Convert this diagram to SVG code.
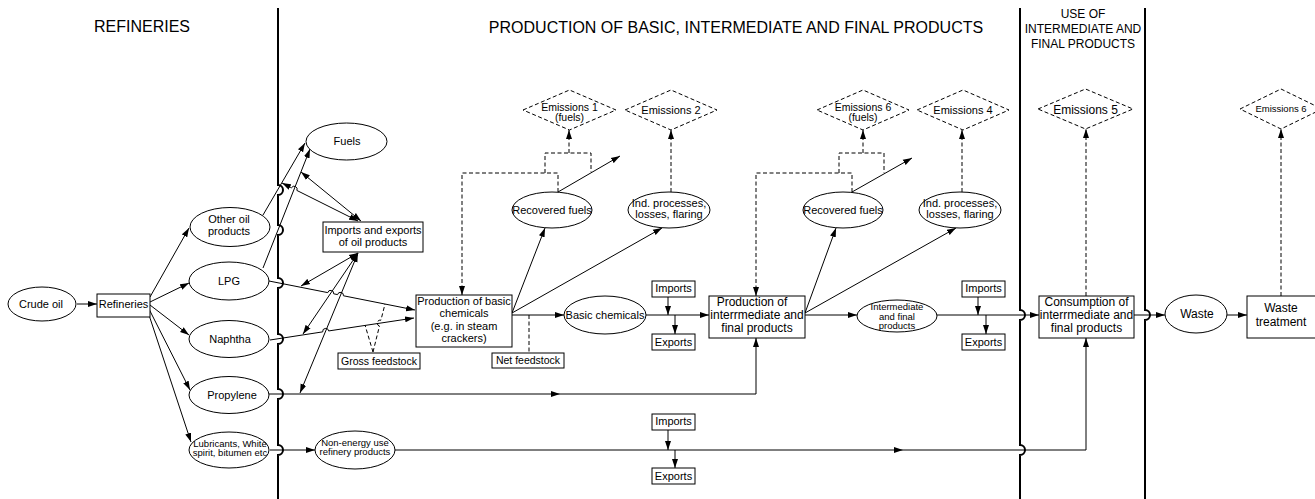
<svg xmlns="http://www.w3.org/2000/svg" width="1315" height="499" viewBox="0 0 1315 499">
<style>
.n{fill:#fff;stroke:#000;stroke-width:1}
.c{fill:none;stroke:#000;stroke-width:1}
.d{fill:none;stroke:#000;stroke-width:1;stroke-dasharray:4 2.5}
.dv{fill:none;stroke:#000;stroke-width:2}
text{font-family:"Liberation Sans",Arial,sans-serif;font-size:11px;text-anchor:middle;fill:#000}
.h{font-size:16px}
.h2{font-size:12px}
.s{font-size:9.5px}
.m{font-size:10.5px}
.l{font-size:12px}
</style>
<defs>
<marker id="a" viewBox="0 0 9 7" refX="9" refY="3.5" markerWidth="9" markerHeight="7" markerUnits="userSpaceOnUse" orient="auto-start-reverse">
<path d="M0,0.5 L9,3.5 L0,6.5 Z" fill="#000"/>
</marker>
</defs>
<rect width="1315" height="499" fill="#fff"/>

<g id="titles">
<text class="h" x="142" y="32">REFINERIES</text>
<text class="h" x="736" y="33">PRODUCTION OF BASIC, INTERMEDIATE AND FINAL PRODUCTS</text>
<text class="h2" x="1083" y="18">USE OF</text>
<text class="h2" x="1083" y="33">INTERMEDIATE AND</text>
<text class="h2" x="1083" y="48">FINAL PRODUCTS</text>
</g>

<g id="dividers">
<path class="dv" d="M278,8 V185 a5,5 0 0 1 0,10 V225 a5,5 0 0 1 0,10 V278 a5,5 0 0 1 0,10 V334 a5,5 0 0 1 0,10 V389 a5,5 0 0 1 0,10 V445 a5,5 0 0 1 0,10 V499"/>
<path class="dv" d="M1020,8 V310 a5,5 0 0 1 0,10 V445 a5,5 0 0 1 0,10 V499"/>
<path class="dv" d="M1145,8 V310 a5,5 0 0 1 0,10 V499"/>
</g>

<g id="connectors">
<path class="c" d="M77,304 H97" marker-end="url(#a)"/>
<path class="c" d="M150,297 L189,228" marker-end="url(#a)"/>
<path class="c" d="M150,302 L189,283" marker-end="url(#a)"/>
<path class="c" d="M150,305 L189,335" marker-end="url(#a)"/>
<path class="c" d="M149,309 L190,390" marker-end="url(#a)"/>
<path class="c" d="M148,312 L191,442" marker-end="url(#a)"/>
<path class="c" d="M263,215 L305,143" marker-end="url(#a)"/>
<path class="c" d="M263,268 L310,149" marker-end="url(#a)"/>
<path class="c" d="M282,183 L291.52,187.76 A3,3 0 0 1 296.88,190.44 L358,221" marker-start="url(#a)" marker-end="url(#a)"/>
<path class="c" d="M301,172 L361,221" marker-start="url(#a)" marker-end="url(#a)"/>
<path class="c" d="M269,281 L327.76,292.62 A3,3 0 0 1 333.64,293.78 L337.56,294.62 A3,3 0 0 1 343.44,295.78 L415,310" marker-end="url(#a)"/>
<path class="c" d="M270,340 L322.73,331.86 A3,3 0 0 1 328.67,330.94 L414,318" marker-end="url(#a)"/>
<path class="c" d="M358,253 L301,286" marker-start="url(#a)" marker-end="url(#a)"/>
<path class="c" d="M358,253 L303,334" marker-start="url(#a)" marker-end="url(#a)"/>
<path class="c" d="M358,253 L300,393" marker-start="url(#a)" marker-end="url(#a)"/>
<path class="d" d="M373,352 L365,325"/>
<path class="d" d="M373,352 L379.47,326.01 A3,3 0 0 1 380.93,320.19 L385,304"/>
<path class="d" d="M529,315 V353"/>
<path class="c" d="M512,313 L545,228" marker-end="url(#a)"/>
<path class="c" d="M512,313 L662,228" marker-end="url(#a)"/>
<path class="c" d="M558,192 L620,156" marker-end="url(#a)"/>
<path class="d" d="M558,192 V173 H462 V295" marker-end="url(#a)"/>
<path class="d" d="M545,173 V153 H591 V172"/>
<path class="d" d="M569,153 V130" marker-end="url(#a)"/>
<path class="d" d="M671,192 V130" marker-end="url(#a)"/>
<path class="c" d="M512,315 H564" marker-end="url(#a)"/>
<path class="c" d="M646,315 H709" marker-end="url(#a)"/>
<path class="c" d="M668,297 V315" marker-end="url(#a)"/>
<path class="c" d="M675,315 V334" marker-end="url(#a)"/>
<path class="c" d="M805,313 L836,228" marker-end="url(#a)"/>
<path class="c" d="M805,313 L956,228" marker-end="url(#a)"/>
<path class="c" d="M852,192 L912,158" marker-end="url(#a)"/>
<path class="d" d="M852,192 V173 H756 V296" marker-end="url(#a)"/>
<path class="d" d="M839,173 V153 H884 V173"/>
<path class="d" d="M863,153 V130" marker-end="url(#a)"/>
<path class="d" d="M962,192 V130" marker-end="url(#a)"/>
<path class="c" d="M805,315 H857" marker-end="url(#a)"/>
<path class="c" d="M937,315 H1039" marker-end="url(#a)"/>
<path class="c" d="M978,297 V315" marker-end="url(#a)"/>
<path class="c" d="M986,315 V334" marker-end="url(#a)"/>
<path class="d" d="M1086,296 V129" marker-end="url(#a)"/>
<path class="c" d="M1134,315 H1165" marker-end="url(#a)"/>
<path class="c" d="M1227,315 H1247" marker-end="url(#a)"/>
<path class="d" d="M1281,296 V129" marker-end="url(#a)"/>
<path class="c" d="M269,394 H560" marker-end="url(#a)"/>
<path class="c" d="M560,394 H756 V338" marker-end="url(#a)"/>
<path class="c" d="M270,450 H315" marker-end="url(#a)"/>
<path class="c" d="M395,450 H903" marker-end="url(#a)"/>
<path class="c" d="M903,450 H1086 V338" marker-end="url(#a)"/>
<path class="c" d="M668,430 V450" marker-end="url(#a)"/>
<path class="c" d="M675,450 V468" marker-end="url(#a)"/>
</g>

<g id="crude-oil"><ellipse class="n" cx="42" cy="304" rx="34" ry="17"/><text x="41" y="308">Crude oil</text></g>
<g id="refineries"><rect class="n" x="97" y="294" width="53" height="23"/><text x="123.5" y="308">Refineries</text></g>
<g id="other-oil"><ellipse class="n" cx="230" cy="227" rx="40" ry="19.5"/><text x="229" y="223">Other oil</text><text x="229" y="235">products</text></g>
<g id="lpg"><ellipse class="n" cx="229" cy="281" rx="40" ry="19"/><text x="229" y="285">LPG</text></g>
<g id="naphtha"><ellipse class="n" cx="229" cy="339" rx="40" ry="18.5"/><text x="230" y="343">Naphtha</text></g>
<g id="propylene"><ellipse class="n" cx="229" cy="395" rx="40" ry="18.5"/><text x="232" y="399">Propylene</text></g>
<g id="lubricants"><ellipse class="n" cx="229" cy="450" rx="40" ry="18"/><text class="s" x="230" y="447">Lubricants, White</text><text class="s" x="230" y="456">spirit, bitumen etc</text></g>
<g id="fuels"><ellipse class="n" cx="346.5" cy="141.5" rx="40.5" ry="18.5"/><text x="347" y="145">Fuels</text></g>
<g id="imports-exports-oil"><rect class="n" x="323" y="222" width="100" height="30"/><text x="373" y="234">Imports and exports</text><text x="373" y="246">of oil products</text></g>
<g id="gross-feedstock"><rect class="n" x="338" y="353" width="82" height="16"/><text class="m" x="379" y="365">Gross feedstock</text></g>
<g id="non-energy"><ellipse class="n" cx="355" cy="450" rx="40" ry="19"/><text class="s" x="355" y="446">Non-energy use</text><text class="s" x="355" y="455">refinery products</text></g>
<g id="prod-basic"><rect class="n" x="416" y="295" width="96" height="52"/><text x="464" y="305">Production of basic</text><text x="464" y="317">chemicals</text><text x="464" y="330">(e.g. in steam</text><text x="464" y="342">crackers)</text></g>
<g id="net-feedstock"><rect class="n" x="492" y="353" width="72" height="15"/><text class="m" x="528" y="364">Net feedstock</text></g>
<g id="recovered-1"><ellipse class="n" cx="552" cy="210" rx="40" ry="18"/><text x="552" y="214">Recovered fuels</text></g>
<g id="ind-1"><ellipse class="n" cx="669" cy="210" rx="41" ry="18"/><text x="669" y="207">Ind. processes,</text><text x="669" y="218">losses, flaring</text></g>
<g id="em-1"><path class="d" d="M523,110 L569.5,90 L616,110 L569.5,130 Z"/><text class="m" x="569.5" y="111">Emissions 1</text><text class="m" x="569.5" y="121">(fuels)</text></g>
<g id="em-2"><path class="d" d="M625,110 L671,90 L717,110 L671,130 Z"/><text x="671" y="114">Emissions 2</text></g>
<g id="basic-chem"><ellipse class="n" cx="605" cy="315" rx="41" ry="19"/><text x="605" y="319">Basic chemicals</text></g>
<g id="imports-1"><rect class="n" x="652" y="281" width="43" height="16"/><text x="673.5" y="292">Imports</text></g>
<g id="exports-1"><rect class="n" x="652" y="334" width="43" height="16"/><text x="673.5" y="346">Exports</text></g>
<g id="prod-inter"><rect class="n" x="709" y="296" width="96" height="42"/><text class="l" x="752" y="306">Production of</text><text class="l" x="757" y="319">interrmediate and</text><text class="l" x="757" y="332">final products</text></g>
<g id="recovered-2"><ellipse class="n" cx="843" cy="210" rx="40" ry="18"/><text x="843" y="214">Recovered fuels</text></g>
<g id="ind-2"><ellipse class="n" cx="960" cy="210" rx="41" ry="18"/><text x="960" y="207">Ind. processes,</text><text x="960" y="218">losses, flaring</text></g>
<g id="em-6f"><path class="d" d="M817,110 L863,90 L909,110 L863,130 Z"/><text class="m" x="863" y="111">Emissions 6</text><text class="m" x="863" y="121">(fuels)</text></g>
<g id="em-4"><path class="d" d="M917,110 L963,90 L1009,110 L963,130 Z"/><text x="963" y="114">Emissions 4</text></g>
<g id="inter-final"><ellipse class="n" cx="897" cy="316" rx="40" ry="16"/><text class="s" x="897" y="310">Intermediate</text><text class="s" x="897" y="320">and final</text><text class="s" x="897" y="329">products</text></g>
<g id="imports-2"><rect class="n" x="962" y="281" width="43" height="16"/><text x="983.5" y="292">Imports</text></g>
<g id="exports-2"><rect class="n" x="962" y="334" width="43" height="16"/><text x="983.5" y="346">Exports</text></g>
<g id="imports-3"><rect class="n" x="652" y="414" width="43" height="16"/><text x="673.5" y="425">Imports</text></g>
<g id="exports-3"><rect class="n" x="652" y="468" width="43" height="16"/><text x="673.5" y="480">Exports</text></g>
<g id="consumption"><rect class="n" x="1039" y="296" width="95" height="42"/><text class="l" x="1086.5" y="306">Consumption of</text><text class="l" x="1086.5" y="319">interrmediate and</text><text class="l" x="1086.5" y="332">final products</text></g>
<g id="em-5"><path class="d" d="M1038,109 L1085.5,89 L1133,109 L1085.5,129 Z"/><text class="l" x="1085.5" y="114">Emissions 5</text></g>
<g id="waste"><ellipse class="n" cx="1196" cy="314" rx="31" ry="19"/><text class="l" x="1197" y="318">Waste</text></g>
<g id="waste-treatment"><rect class="n" x="1247" y="296" width="72" height="42"/><text class="l" x="1281" y="312">Waste</text><text class="l" x="1281" y="326">treatment</text></g>
<g id="em-6"><path class="d" d="M1240,109 L1281,89 L1322,109 L1281,129 Z"/><text class="s" x="1281" y="112">Emissions 6</text></g>
</svg>
